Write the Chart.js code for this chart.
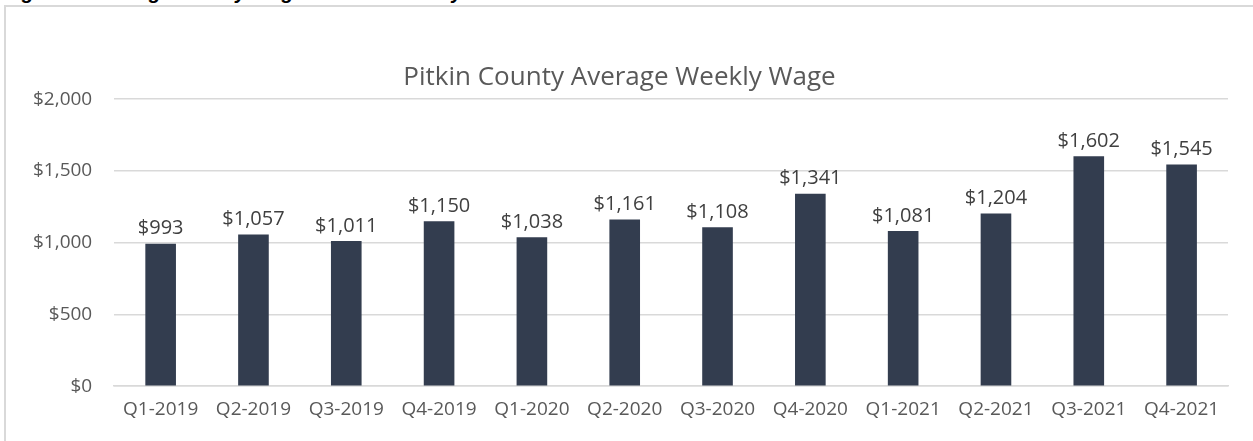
<!DOCTYPE html>
<html>
<head>
<meta charset="utf-8">
<script src="https://cdn.jsdelivr.net/npm/chart.js@4.4.0/dist/chart.umd.min.js"></script>
<style>
  html, body { margin: 0; padding: 0; background: #fff; overflow: hidden; }
  #caption {
    position: absolute; left: 4px; top: -19px;
    font: italic bold 20px "Liberation Sans", Arial, sans-serif; color: #000;
    white-space: nowrap;
  }
  #frame {
    position: absolute; left: 4px; top: 5px; width: 1262px; height: 450px;
    border: 2px solid #d9d9d9; box-sizing: border-box; background: #fff;
  }
  #wrap { position: absolute; left: 0; top: 0; width: 1250px; height: 436px; }
</style>
</head>
<body>
<div id="caption">Figure 5: Average Weekly Wage in Pitkin County</div>
<div id="frame">
  <div id="wrap"><canvas id="myChart"></canvas></div>
</div>
<script>
// Data
const quarters = ['Q1-2019', 'Q2-2019', 'Q3-2019', 'Q4-2019', 'Q1-2020', 'Q2-2020',
                  'Q3-2020', 'Q4-2020', 'Q1-2021', 'Q2-2021', 'Q3-2021', 'Q4-2021'];
const weeklyWage = [993, 1057, 1011, 1150, 1038, 1161, 1108, 1341, 1081, 1204, 1602, 1545];

const money = v => '$' + v.toLocaleString('en-US');
const fontFamily = '"Open Sans", "Liberation Sans", sans-serif';

// simple value labels above each bar
const barLabels = {
    id: 'barLabels',
    afterDatasetsDraw(chart) {
        const ctx = chart.ctx;
        const meta = chart.getDatasetMeta(0);
        ctx.save();
        ctx.font = '20px ' + fontFamily;
        ctx.fillStyle = '#404040';
        ctx.textAlign = 'center';
        ctx.textBaseline = 'bottom';
        meta.data.forEach((bar, i) => {
            ctx.fillText(money(weeklyWage[i]), bar.x, bar.y - 5);
        });
        ctx.restore();
    }
};

const config = {
    type: 'bar',
    data: {
        labels: quarters,
        datasets: [{
            label: 'Average Weekly Wage',
            data: weeklyWage,
            backgroundColor: '#333d4f',
            barPercentage: 0.33,
            categoryPercentage: 1
        }]
    },
    options: {
        responsive: true,
        maintainAspectRatio: false,
        animation: false,
        layout: { padding: { left: 5, right: 28, top: 55, bottom: 18 } },
        scales: {
            x: {
                grid: { display: false },
                border: { color: '#d9d9d9', width: 1.5 },
                ticks: { color: '#595959', font: { family: fontFamily, size: 19 }, maxRotation: 0, padding: 4 }
            },
            y: {
                min: 0,
                max: 2000,
                border: { display: false },
                grid: { color: '#d9d9d9', lineWidth: 1.5, drawTicks: false },
                ticks: {
                    stepSize: 500,
                    padding: 22,
                    color: '#595959',
                    font: { family: fontFamily, size: 19 },
                    callback: v => money(v)
                }
            }
        },
        plugins: {
            legend: { display: false },
            tooltip: { enabled: false },
            title: {
                display: true,
                text: 'Pitkin County Average Weekly Wage',
                color: '#595959',
                font: { family: fontFamily, size: 26, weight: 'normal' },
                padding: { top: 0, bottom: 6 }
            }
        }
    },
    plugins: [barLabels]
};

new Chart(document.getElementById('myChart'), config);
</script>
</body>
</html>
